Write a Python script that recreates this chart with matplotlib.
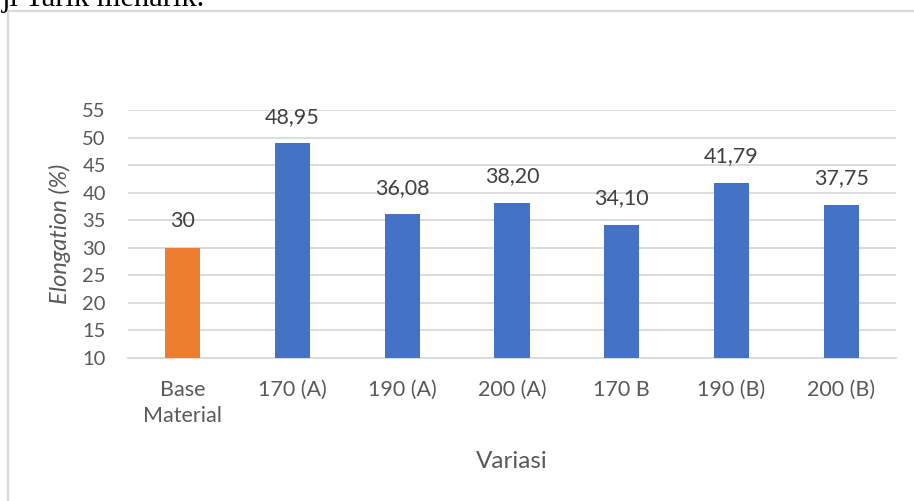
import matplotlib
matplotlib.use("Agg")
import matplotlib.pyplot as plt
from matplotlib.lines import Line2D

categories = ["Base\nMaterial", "170 (A)", "190 (A)", "200 (A)", "170 B", "190 (B)", "200 (B)"]
values = [30, 48.95, 36.08, 38.20, 34.10, 41.79, 37.75]
value_labels = ["30", "48,95", "36,08", "38,20", "34,10", "41,79", "37,75"]
bar_colors = ["#ED7D31"] + ["#4472C4"] * 6
y_ticks = [10, 15, 20, 25, 30, 35, 40, 45, 50, 55]

plt.rcParams["font.family"] = ["Lato", "DejaVu Sans"]
text_color = "#595959"
grid_color = "#D9D9D9"

W, H = 914, 501
fig = plt.figure(figsize=(W / 100, H / 100), dpi=100)

# Plot area in pixel terms
left, right, top, bottom = 128, 896, 110, 358
ax = fig.add_axes([left / W, 1 - bottom / H, (right - left) / W, (bottom - top) / H])

x = list(range(len(categories)))
ax.bar(x, [v - 10 for v in values], bottom=10, width=0.32, color=bar_colors, zorder=3)

for xi, v, lab in zip(x, values, value_labels):
    ax.annotate(lab, (xi, v), xytext=(0, 12), textcoords="offset points",
                ha="center", va="bottom", fontsize=15.5, color="#404040")

ax.set_xlim(-0.5, len(categories) - 0.5)
ax.set_ylim(10, 55)
ax.set_yticks(y_ticks)
ax.set_yticklabels([str(t) for t in y_ticks], fontsize=14.5, color=text_color)
ax.set_xticks(x)
ax.set_xticklabels(categories, fontsize=15.5, color=text_color, linespacing=1.35)
ax.tick_params(axis="y", length=0, pad=16)
ax.tick_params(axis="x", length=0, pad=16)

ax.yaxis.grid(True, color=grid_color, linewidth=1.3, zorder=0)
ax.set_axisbelow(True)
for s in ["top", "right", "left"]:
    ax.spines[s].set_visible(False)
ax.spines["bottom"].set_color(grid_color)
ax.spines["bottom"].set_linewidth(1.3)

ax.set_xlabel("Variasi", fontsize=17.5, color=text_color, labelpad=18)
ax.set_ylabel("Elongation (%)", fontsize=17, color=text_color, style="italic", labelpad=8)

# Chart frame (left and top edges visible)
fig.add_artist(Line2D([8 / W, 8 / W], [0, 1 - 11 / H], color=grid_color, linewidth=1.6,
                      transform=fig.transFigure))
fig.add_artist(Line2D([8 / W, 1], [1 - 11 / H, 1 - 11 / H], color=grid_color, linewidth=1.6,
                      transform=fig.transFigure))

# Document text above the chart
fig.text(2 / W, 1 - 6 / H, "ji Tarik menarik.", fontsize=22, family="Liberation Serif",
         color="black", ha="left", va="baseline")

fig.savefig("out.png", dpi=100)
